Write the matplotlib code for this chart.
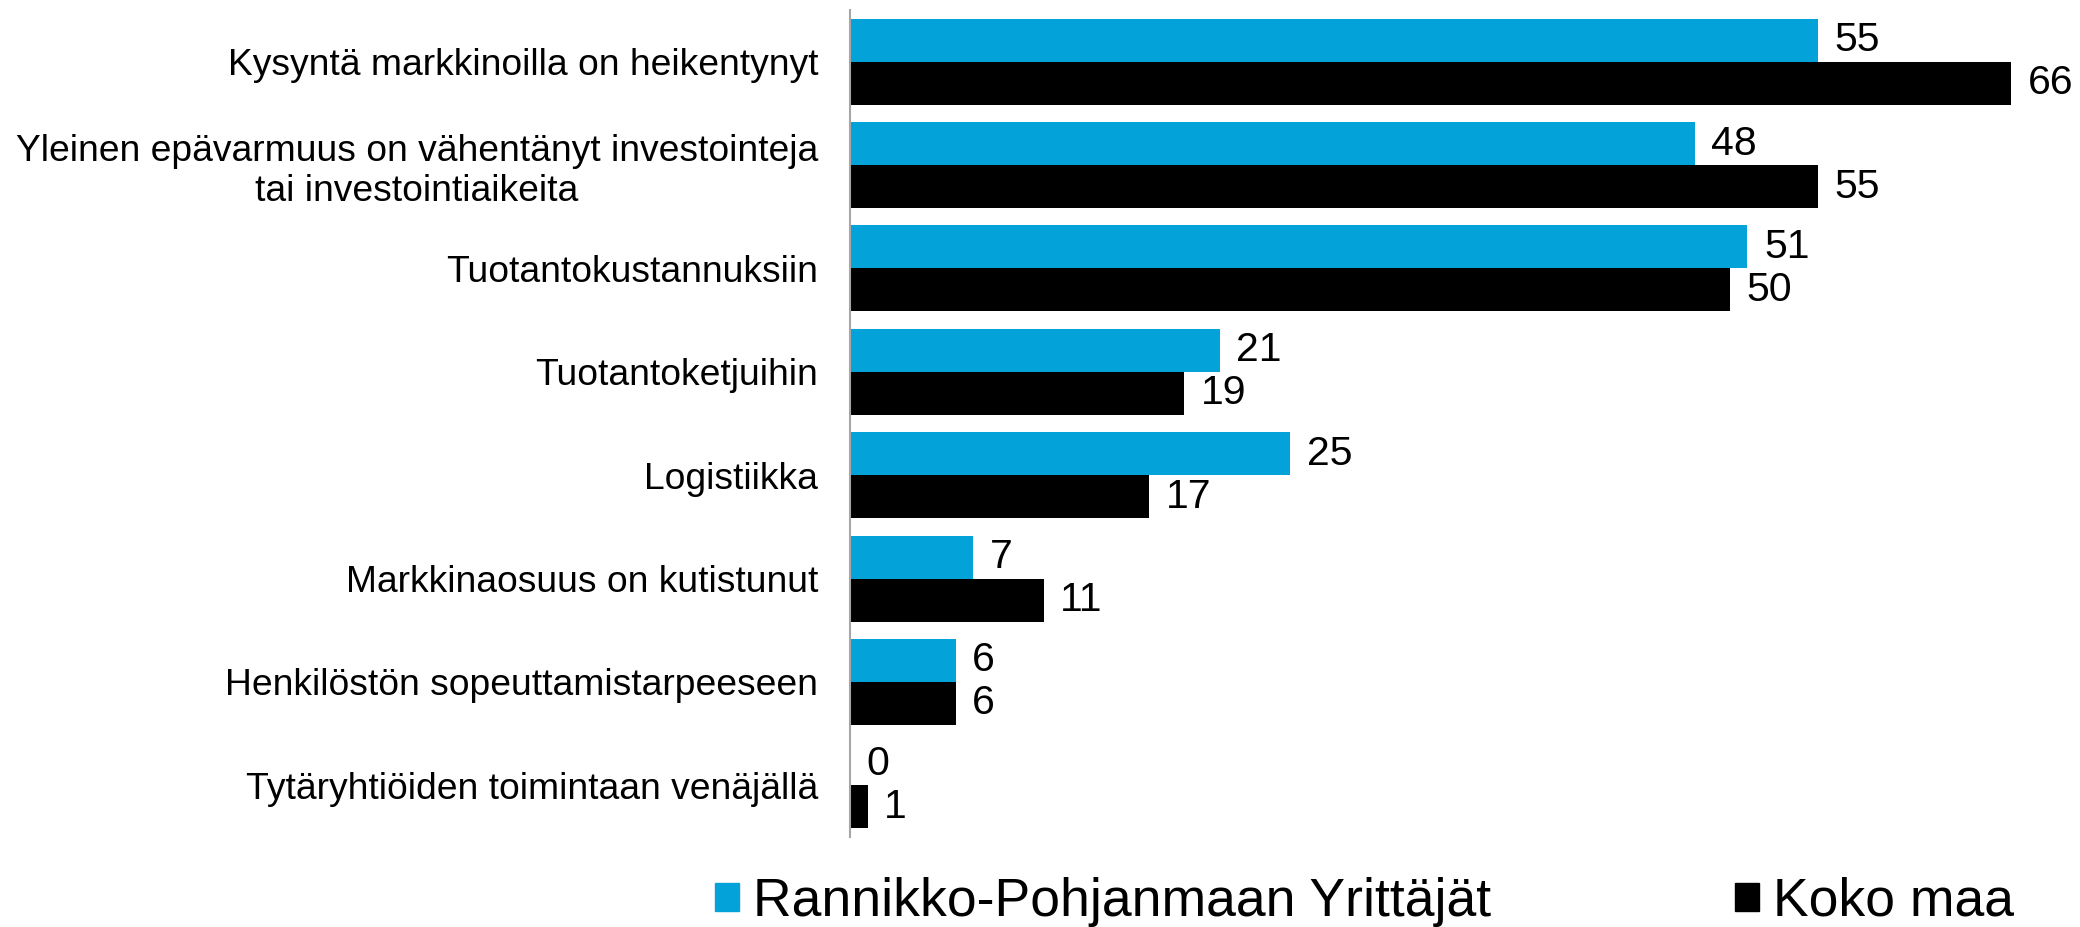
import numpy as np
import matplotlib
matplotlib.use("Agg")
import matplotlib.pyplot as plt
from matplotlib.patches import Patch

plt.rcParams['font.family'] = ['Liberation Sans', 'DejaVu Sans']

# Syyt, joihin Venäjän tilanne on vaikuttanut (% vastaajista)
categories = [
    "Kysyntä markkinoilla on heikentynyt",
    "Yleinen epävarmuus on vähentänyt investointeja\ntai investointiaikeita",
    "Tuotantokustannuksiin",
    "Tuotantoketjuihin",
    "Logistiikka",
    "Markkinaosuus on kutistunut",
    "Henkilöstön sopeuttamistarpeeseen",
    "Tytäryhtiöiden toimintaan venäjällä",
]
region_vals = [55, 48, 51, 21, 25, 7, 6, 0]
country_vals = [66, 55, 50, 19, 17, 11, 6, 1]
series_names = ["Rannikko-Pohjanmaan Yrittäjät", "Koko maa"]

BLUE = "#03A3DA"
BLACK = "#000000"

fig = plt.figure(figsize=(20.8, 9.27), dpi=100)
ax = fig.add_axes([850 / 2080, 1 - 837 / 927, 1 - 850 / 2080, 827 / 927])

y = np.arange(len(categories))
h = 0.416

b1 = ax.barh(y - h / 2, region_vals, height=h, color=BLUE)
b2 = ax.barh(y + h / 2, country_vals, height=h, color=BLACK)

ax.bar_label(b1, padding=12, fontsize=29.5)
ax.bar_label(b2, padding=12, fontsize=29.5)

ax.set_ylim(len(categories) - 0.5, -0.5)
ax.set_xlim(0, 69.9)
ax.set_yticks(y)
ax.set_yticklabels(categories, fontsize=26.8, multialignment='center')
ax.tick_params(axis='y', length=0, pad=23)
ax.set_xticks([])

for s in ['top', 'right', 'bottom']:
    ax.spines[s].set_visible(False)
ax.spines['left'].set_color('#A6A6A6')
ax.spines['left'].set_linewidth(1.5)

handles = [Patch(color=BLUE), Patch(color=BLACK)]
fig.legend(handles, series_names, loc='center left',
           bbox_to_anchor=(715 / 2080, 1 - 902 / 927),
           ncol=2, frameon=False, fontsize=38.5,
           handlelength=0.45, handleheight=0.45, handletextpad=0.26,
           columnspacing=4.56, borderpad=0, borderaxespad=0)

fig.savefig("out.png", dpi=100)
